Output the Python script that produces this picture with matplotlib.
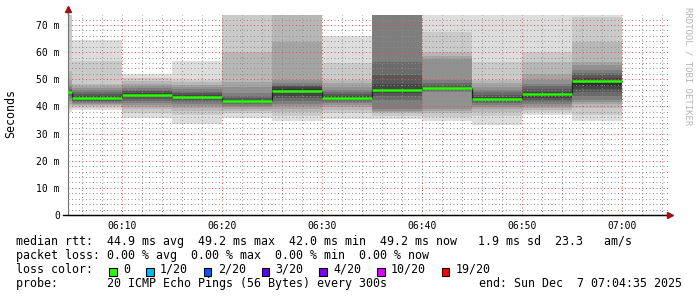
import matplotlib
matplotlib.use("Agg")
import matplotlib.pyplot as plt
from matplotlib.patches import Rectangle

W, H = 697, 297

# each 300s bin starts at these minutes after 06:00
bin_start = [0, 5, 10, 15, 20, 25, 30, 35, 40, 45, 50, 55]
median = [45.2, 43.0, 44.3, 43.5, 42.0, 45.8, 43.0, 46.0, 46.8, 42.9, 44.5, 49.2]

# 20 sorted pings (ms) per bin
pings = [
    [38.0, 39.0, 40.0, 41.0, 42.0, 43.0, 44.0, 44.5, 45.0, 45.2, 45.3, 45.6, 46.0, 46.5, 47.0, 48.0, 49.6, 52.9, 75.0, 80.0],
    [38.8, 39.5, 40.0, 40.4, 40.8, 41.2, 41.6, 42.0, 42.5, 42.9, 43.2, 43.8, 44.5, 45.3, 46.0, 46.8, 47.5, 48.3, 56.6, 64.3],
    [35.6, 37.5, 39.0, 39.8, 40.5, 41.2, 42.0, 42.8, 43.5, 44.1, 44.5, 45.0, 45.6, 46.2, 46.8, 47.4, 48.2, 49.2, 50.4, 52.0],
    [33.7, 37.0, 38.5, 39.5, 40.2, 41.0, 41.8, 42.5, 43.0, 43.4, 43.7, 44.2, 44.8, 45.5, 46.3, 47.0, 48.0, 49.0, 49.6, 56.9],
    [35.7, 37.5, 38.5, 39.2, 39.8, 40.3, 40.8, 41.2, 41.6, 41.9, 42.1, 42.5, 43.0, 43.8, 45.0, 47.0, 49.0, 60.0, 80.0, 85.0],
    [34.8, 36.5, 38.0, 39.0, 40.0, 41.0, 42.0, 43.0, 44.0, 45.0, 46.3, 47.0, 47.5, 48.0, 48.6, 49.6, 63.9, 78.0, 85.0, 90.0],
    [35.4, 37.5, 38.8, 39.8, 40.5, 41.2, 41.8, 42.3, 42.7, 43.0, 43.3, 43.8, 44.5, 45.3, 46.2, 47.2, 48.5, 49.6, 56.0, 65.9],
    [35.5, 36.5, 37.5, 38.0, 38.5, 39.1, 42.5, 44.0, 44.8, 45.5, 46.5, 48.3, 51.6, 56.3, 80.0, 85.0, 90.0, 95.0, 100.0, 110.0],
    [34.8, 36.0, 37.5, 38.3, 39.1, 45.2, 45.6, 46.0, 46.4, 46.6, 46.9, 47.3, 47.8, 48.5, 49.6, 57.5, 58.5, 60.0, 67.4, 90.0],
    [33.0, 36.5, 38.0, 39.0, 39.8, 40.5, 41.2, 41.8, 42.3, 42.8, 43.1, 43.6, 44.3, 45.2, 46.2, 47.2, 48.5, 49.6, 56.3, 80.0],
    [36.7, 38.0, 38.8, 39.3, 40.0, 41.0, 41.8, 42.5, 43.2, 44.0, 44.8, 45.5, 46.5, 47.5, 48.3, 49.6, 52.0, 56.3, 60.0, 80.0],
    [34.8, 37.0, 39.5, 40.9, 41.5, 42.5, 44.0, 45.5, 46.5, 47.5, 49.5, 50.5, 51.5, 52.5, 53.5, 55.1, 56.3, 63.7, 73.0, 80.0],
]

tick_min = [10, 20, 30, 40, 50, 60]
tick_lab = ["06:10", "06:20", "06:30", "06:40", "06:50", "07:00"]
ytick_val = [0, 10, 20, 30, 40, 50, 60, 70]
ytick_lab = ["0", "10 m", "20 m", "30 m", "40 m", "50 m", "60 m", "70 m"]

loss_lab = ["0", "1/20", "2/20", "3/20", "4/20", "10/20", "19/20"]
loss_col = ["#26ff00", "#00b8ff", "#0059ff", "#5e00ff", "#7e00ff", "#dd00ff", "#ff0000"]

line1 = "median rtt:  44.9 ms avg  49.2 ms max  42.0 ms min  49.2 ms now   1.9 ms sd  23.3   am/s"
line2 = "packet loss: 0.00 % avg  0.00 % max  0.00 % min  0.00 % now"
line4 = "probe:       20 ICMP Echo Pings (56 Bytes) every 300s"
end_txt = "end: Sun Dec  7 07:04:35 2025"

mono = "DejaVu Sans Mono"
plt.rcParams['font.family'] = mono


def fx(x):
    return x / W


def fy(y):
    return 1 - y / H


fig = plt.figure(figsize=(W / 100, H / 100), dpi=100)
ax = fig.add_axes([fx(67.5), 82 / H, 600 / W, 200 / H])

# smoke: pair i with 21-i, lighter outside, darker towards the median
for b, p in enumerate(pings):
    for i in range(10):
        g = int(190 / 10 * (9 - i)) + 50
        ax.bar(bin_start[b], p[19 - i] - p[i], bottom=p[i], width=5, align='edge',
               color="#%02x%02x%02x" % (g, g, g), linewidth=0, zorder=1)

edges = bin_start + [bin_start[-1] + 5]
ax.step(edges, median + [median[-1]], where='post', color="#202020", lw=0.9, zorder=4)
ax.hlines(median, bin_start, [s + 5 for s in bin_start], color="#26ff00", lw=1.8, zorder=5)

ax.set_xlim(4 + 35 / 60, 64 + 35 / 60)
ax.set_ylim(0, 200 / 2.714)

ax.set_xticks(tick_min)
ax.set_xticklabels(tick_lab)
ax.set_xticks([m for m in range(6, 65, 2) if m % 10], minor=True)
ax.set_yticks(ytick_val)
ax.set_yticklabels(ytick_lab)
ax.set_yticks([v for v in range(2, 74, 2) if v % 10], minor=True)
ax.tick_params(which='both', length=0)
ax.tick_params(axis='x', pad=4.6, labelsize=7)
ax.tick_params(axis='y', pad=5.4, labelsize=7)

ax.set_axisbelow(False)
ax.grid(which='major', color=(1, 0.25, 0.25, 0.45), lw=0.7, linestyle=(0, (1, 2.6)))
ax.grid(which='minor', color=(0.55, 0.55, 0.55, 0.4), lw=0.7, linestyle=(0, (1, 2.6)))

for s in ['top', 'right']:
    ax.spines[s].set_visible(False)
ax.spines['bottom'].set_color('black')
ax.spines['left'].set_color('#707070')

# axis extensions and arrow heads
ax.plot([-5 / 600, 1.0], [0, 0], color='black', lw=1, transform=ax.transAxes, clip_on=False, zorder=6)
ax.plot([0, 0], [1.0, 1.0 + 4 / 200], color='#707070', lw=1, transform=ax.transAxes, clip_on=False, zorder=6)
ax.plot([1 + 3 / 600], [0], marker='>', ms=4.5, color='#a01010', mec='#a01010',
        transform=ax.transAxes, clip_on=False, zorder=7)
ax.plot([0], [1 + 6 / 200], marker='^', ms=4.5, color='#a01010', mec='#a01010',
        transform=ax.transAxes, clip_on=False, zorder=7)

fig.text(fx(11), fy(114), "Seconds", rotation=90, ha='center', va='center', fontsize=8.4)
fig.text(fx(688), fy(66), "RRDTOOL / TOBI OETIKER", rotation=270, ha='center', va='center',
         fontsize=6.5, color='#b4b4b4')

# legend
fs = 8.4
fig.text(fx(16), fy(245), line1, fontsize=fs, va='baseline')
fig.text(fx(16), fy(259), line2, fontsize=fs, va='baseline')
fig.text(fx(16), fy(273), "loss color:", fontsize=fs, va='baseline')
sx = 109.3
for lab, col in zip(loss_lab, loss_col):
    fig.patches.append(Rectangle((fx(sx), fy(275.5)), 7.5 / W, 7.5 / H, transform=fig.transFigure,
                                 facecolor=col, edgecolor='black', lw=0.8))
    fig.text(fx(sx + 14), fy(273), lab, fontsize=fs, va='baseline')
    sx += 29.7 + 7.02 * len(lab)
fig.text(fx(16), fy(287), line4, fontsize=fs, va='baseline')
fig.text(fx(478.7), fy(287), end_txt, fontsize=fs, va='baseline')

fig.savefig("out.png", dpi=100, facecolor='white')
